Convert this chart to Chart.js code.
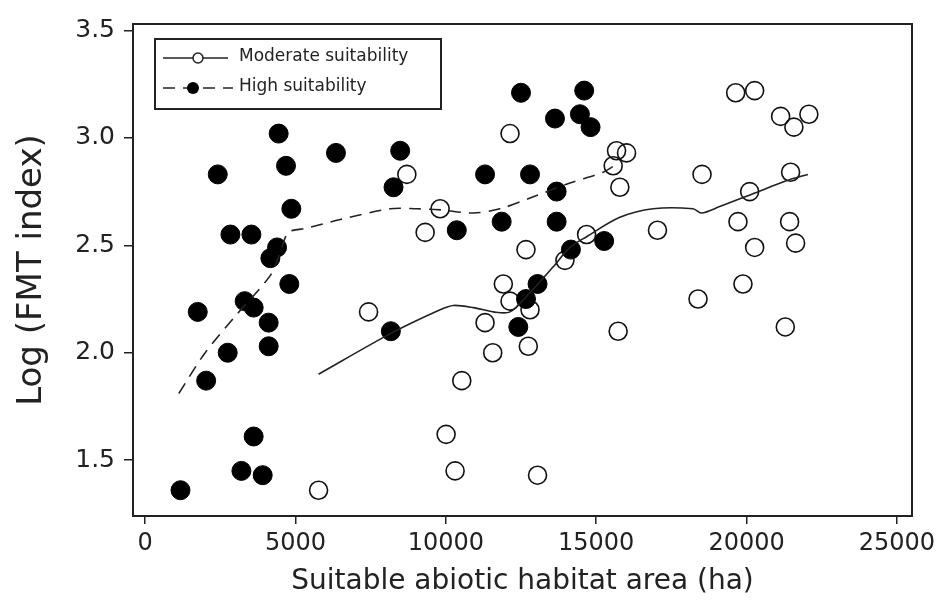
<!DOCTYPE html>
<html>
<head>
<meta charset="utf-8">
<script src="https://cdn.jsdelivr.net/npm/chart.js@4"></script>
<style>
  body { margin: 0; background: #fff; }
  #wrap { width: 943px; height: 601px; position: relative; }
</style>
</head>
<body>
<div id="wrap"><canvas id="myChart"></canvas></div>
<script>
// open circles: moderate suitability
const moderateX = [12135, 8705, 9811, 9313, 12666, 11913, 19638, 20269, 21132, 22071,
  21573, 15677, 16009, 15565, 18519, 21464, 15787, 20103, 19714, 21431,
  17038, 20269, 21630, 14681, 13961, 19880, 7432, 12135, 12800, 11305,
  12743, 11560, 10531, 10010, 10309, 13050, 5770, 18386, 15730, 21287];
const moderateY = [3.02, 2.83, 2.67, 2.56, 2.48, 2.32, 3.21, 3.22, 3.10, 3.11,
  3.05, 2.94, 2.93, 2.87, 2.83, 2.84, 2.77, 2.75, 2.61, 2.61,
  2.57, 2.49, 2.51, 2.55, 2.43, 2.32, 2.19, 2.24, 2.20, 2.14,
  2.03, 2.00, 1.87, 1.62, 1.45, 1.43, 1.36, 2.25, 2.10, 2.12];

// filled circles: high suitability
const highX = [12500, 4443, 6348, 8483, 2418, 4687, 11305, 12800, 8262, 4864,
  2839, 3536, 11858, 10365, 4389, 4167, 14601, 13629, 14459, 14813,
  13685, 13685, 15265, 14160, 13050, 1753, 3313, 3612, 4797, 4111,
  4111, 2749, 2032, 8174, 3612, 3204, 3912, 1179, 12666, 12410];
const highY = [3.21, 3.02, 2.93, 2.94, 2.83, 2.87, 2.83, 2.83, 2.77, 2.67,
  2.55, 2.55, 2.61, 2.57, 2.49, 2.44, 3.22, 3.09, 3.11, 3.05,
  2.75, 2.61, 2.52, 2.48, 2.32, 2.19, 2.24, 2.21, 2.32, 2.14,
  2.03, 2.00, 1.87, 2.10, 1.61, 1.45, 1.43, 1.36, 2.25, 2.12];

// smoothed trend lines
const moderateFitX = [5770, 8174, 9811, 10252, 10916, 11580, 12135, 12800, 13572, 14127,
  14681, 15787, 16892, 18220, 18499, 19107, 20213, 21320, 22038];
const moderateFitY = [1.90, 2.09, 2.20, 2.22, 2.21, 2.19, 2.19, 2.28, 2.40, 2.49,
  2.54, 2.63, 2.67, 2.67, 2.65, 2.68, 2.74, 2.80, 2.83];
const highFitX = [1122, 2000, 3061, 4167, 4500, 4775, 5385, 6491, 8151, 9037,
  9811, 10916, 11803, 12800, 14127, 15233, 15700];
const highFitY = [1.81, 2.00, 2.18, 2.36, 2.47, 2.56, 2.58, 2.62, 2.67, 2.67,
  2.665, 2.65, 2.67, 2.72, 2.79, 2.84, 2.88];

const xTicks = [0, 5000, 10000, 15000, 20000, 25000];
const yTicks = [1.5, 2.0, 2.5, 3.0, 3.5];
const legendLabels = ["Moderate suitability", "High suitability"];

const toPoints = (xs, ys) => xs.map((x, i) => ({ x: x, y: ys[i] }));

// frame around the plot + hand-drawn legend box
const framePlugin = {
  id: "frame",
  afterDraw(chart) {
    const { ctx, chartArea: a } = chart;
    ctx.save();
    ctx.strokeStyle = "#222";
    ctx.lineWidth = 2;
    ctx.strokeRect(a.left, a.top, a.right - a.left, a.bottom - a.top);

    const bx = a.left + 22, by = a.top + 15;
    ctx.lineWidth = 2;
    ctx.strokeRect(bx, by, 286, 70);
    ctx.lineWidth = 1.5;
    // row 1: solid line + open circle
    let ry = by + 19;
    ctx.beginPath();
    ctx.moveTo(bx + 8, ry); ctx.lineTo(bx + 73, ry);
    ctx.stroke();
    ctx.fillStyle = "#fff";
    ctx.beginPath();
    ctx.arc(bx + 43, ry, 5, 0, Math.PI * 2);
    ctx.fill(); ctx.stroke();
    // row 2: dashed line + filled circle
    ry = by + 49;
    ctx.setLineDash([12, 8]);
    ctx.beginPath();
    ctx.moveTo(bx + 8, ry); ctx.lineTo(bx + 78, ry);
    ctx.stroke();
    ctx.setLineDash([]);
    ctx.fillStyle = "#000";
    ctx.beginPath();
    ctx.arc(bx + 38, ry, 6, 0, Math.PI * 2);
    ctx.fill();

    ctx.fillStyle = "#222";
    ctx.font = "17px 'DejaVu Sans'";
    ctx.textBaseline = "middle";
    ctx.fillText(legendLabels[0], bx + 84, by + 18);
    ctx.fillText(legendLabels[1], bx + 84, by + 48);
    ctx.restore();
  }
};

const ctx = document.getElementById("myChart");
const config = {
  type: "scatter",
  data: {
    datasets: [
      {
        type: "line",
        label: "moderate fit",
        data: toPoints(moderateFitX, moderateFitY),
        borderColor: "#222",
        borderWidth: 1.6,
        pointRadius: 0,
        tension: 0.3,
        order: 0,
      },
      {
        type: "line",
        label: "high fit",
        data: toPoints(highFitX, highFitY),
        borderColor: "#222",
        borderWidth: 1.6,
        borderDash: [12, 8],
        pointRadius: 0,
        tension: 0.3,
        order: 0,
      },
      {
        label: legendLabels[0],
        data: toPoints(moderateX, moderateY),
        pointRadius: 9,
        pointBorderWidth: 1.6,
        borderColor: "#111",
        backgroundColor: "rgba(255,255,255,0)",
        order: 2,
      },
      {
        label: legendLabels[1],
        data: toPoints(highX, highY),
        pointRadius: 9.5,
        pointBorderWidth: 1,
        borderColor: "#000",
        backgroundColor: "#000",
        order: 1,
      },
    ],
  },
  options: {
    responsive: true,
    maintainAspectRatio: false,
    animation: false,
    layout: { padding: { top: 13, right: 31, left: 0, bottom: 0 } },
    plugins: {
      legend: { display: false },
      tooltip: { enabled: false },
    },
    scales: {
      x: {
        type: "linear",
        min: -400,
        max: 25500,
        afterBuildTicks: (s) => { s.ticks = xTicks.map((v) => ({ value: v })); },
        afterFit: (s) => { s.height = 85; },
        ticks: {
          color: "#222",
          padding: 5,
          font: { family: "DejaVu Sans", size: 24 },
          callback: (v) => String(v),
        },
        grid: { drawOnChartArea: false, tickLength: 8, color: "#222", lineWidth: 1.5 },
        border: { color: "#222", width: 2 },
        title: {
          display: true,
          text: "Suitable abiotic habitat area (ha)",
          color: "#222",
          font: { family: "DejaVu Sans", size: 28 },
          padding: { top: 0, bottom: 2 },
        },
      },
      y: {
        type: "linear",
        min: 1.24,
        max: 3.53,
        afterBuildTicks: (s) => { s.ticks = yTicks.map((v) => ({ value: v })); },
        afterFit: (s) => { s.width = 133; },
        ticks: {
          color: "#222",
          padding: 9,
          font: { family: "DejaVu Sans", size: 25 },
          callback: (v) => v.toFixed(1),
        },
        grid: { drawOnChartArea: false, tickLength: 9, color: "#222", lineWidth: 1.5 },
        border: { color: "#222", width: 2 },
        title: {
          display: true,
          text: "Log (FMT index)",
          color: "#222",
          font: { family: "DejaVu Sans", size: 34 },
          padding: { top: 12, bottom: 0 },
        },
      },
    },
  },
  plugins: [framePlugin],
};
const myChart = new Chart(ctx, config);
</script>
</body>
</html>
